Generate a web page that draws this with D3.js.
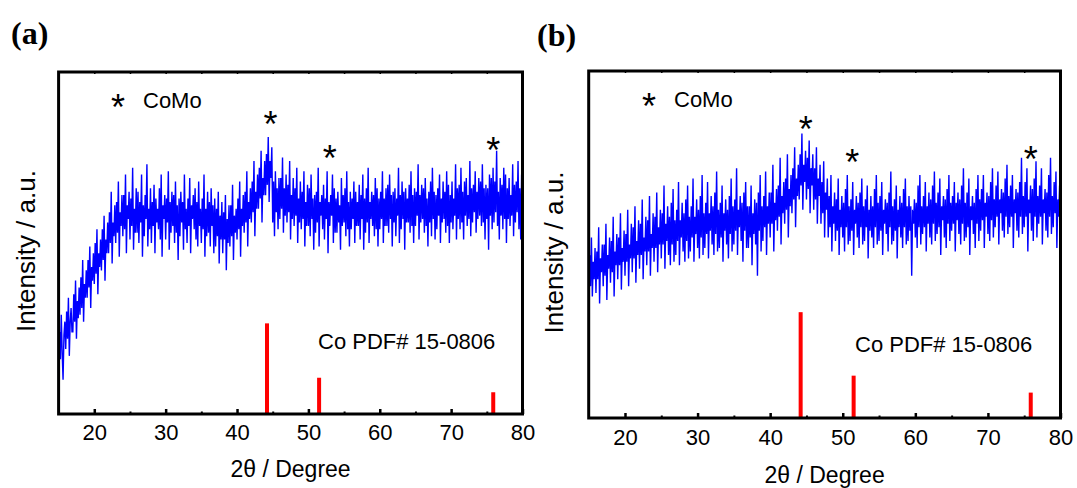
<!DOCTYPE html>
<html>
<head>
<meta charset="utf-8">
<title>XRD CoMo</title>
<script src="https://d3js.org/d3.v7.min.js"></script>
<style>
  body { margin: 0; background: #fff; }
  text { font-family: Arial, "Liberation Sans", sans-serif; }
</style>
</head>
<body>
<script>
// 2theta sampling of the measured patterns
var thetaStart = 15, thetaStep = 0.125;

// pattern (a), intensity in a.u. (0 = bottom of frame, 100 = top), 8 points per degree
var intensityA = [
  12,24,16,29,18,10,23,27, 19,30,22,34,17,27,31,24, 24,35,27,39,22,33,28,37,
  29,40,31,45,27,38,34,42, 34,45,37,49,31,43,39,47, 38,50,41,54,35,47,43,51,
  42,54,45,58,39,51,47,56, 47,59,50,65,44,56,52,61, 50,62,53,68,46,59,55,64,
  52,64,54,70,47,61,57,65, 51,63,55,72,48,60,53,66, 53,65,50,62,56,70,46,61,
  52,64,57,73,49,60,54,66, 50,62,55,67,47,63,56,60, 54,66,51,70,46,61,57,64,
  51,63,56,71,48,62,53,65, 55,64,50,68,53,61,45,63, 52,65,56,62,48,70,54,60,
  50,63,55,69,47,61,57,64, 54,66,51,62,49,68,55,60, 50,63,54,70,46,60,52,65,
  53,62,49,66,55,61,47,63, 49,60,52,65,44,58,51,62, 47,59,51,64,42,57,50,61,
  49,61,52,67,45,58,53,60, 51,63,54,68,46,60,55,64, 53,65,56,71,49,62,57,66,
  56,68,59,74,52,65,60,70, 60,72,63,77,56,69,64,74, 64,76,67,81,62,74,69,78,
  56,68,52,71,59,66,54,69, 57,69,60,75,53,66,58,70, 56,67,59,74,51,64,57,69,
  55,66,58,72,50,63,56,68, 54,65,57,71,49,62,55,67, 55,66,52,70,57,63,48,64,
  53,65,56,72,49,62,58,64, 54,67,51,63,57,71,47,62, 55,64,58,70,50,66,53,63,
  53,65,56,61,48,69,55,64, 56,66,52,71,54,62,49,65, 54,63,57,68,50,65,55,62,
  55,67,51,64,57,70,48,63, 53,66,56,72,50,62,57,65, 55,64,52,69,54,66,49,63,
  54,65,57,71,50,63,55,66, 55,67,53,70,57,64,49,65, 56,66,52,63,58,72,50,64,
  54,68,57,65,48,66,56,63, 56,67,53,71,55,64,50,66, 55,65,58,73,51,64,56,67,
  57,66,53,69,55,63,49,65, 56,68,52,72,57,65,51,64, 54,66,58,70,50,63,56,68,
  57,65,53,71,55,67,50,64, 56,68,54,63,58,73,51,66, 57,67,54,72,56,65,51,68,
  58,69,55,64,57,74,52,66, 56,67,59,71,53,65,57,69, 58,68,55,73,56,66,51,67,
  57,66,48,70,58,69,54,72, 56,68,59,77,55,65,51,69, 58,67,54,72,57,70,50,66,
  57,69,55,64,58,73,52,67, 56,68,59,74,54,66,51,70,
  58
];

// pattern (b)
var intensityB = [
  30,47,38,52,35,45,40,49, 36,48,40,55,33,46,42,50, 38,50,41,56,34,47,43,52,
  39,51,42,58,35,48,44,53, 40,52,44,59,37,49,45,54, 41,53,45,60,38,50,46,56,
  42,55,46,61,39,51,47,57, 43,56,47,63,40,52,48,58, 44,57,48,64,41,53,49,59,
  45,58,49,65,42,55,50,60, 46,59,50,67,43,56,51,61, 47,58,44,62,50,66,45,57,
  47,60,51,68,44,57,52,62, 48,59,45,63,51,67,46,58, 48,61,52,69,45,58,53,63,
  49,60,46,64,52,70,47,59, 49,62,53,68,46,59,54,64, 50,61,47,65,53,71,48,60,
  49,62,52,67,45,59,54,63, 50,60,46,64,53,69,48,61, 50,63,54,72,47,60,55,64,
  51,62,45,65,54,68,49,61, 49,61,52,67,44,59,53,63, 50,62,41,65,54,70,48,61,
  51,64,55,71,47,61,56,65, 52,65,56,73,48,62,57,66, 54,67,58,75,50,64,59,68,
  56,69,60,76,52,66,61,70, 59,72,63,78,55,69,64,73, 63,76,67,82,60,73,68,77,
  63,75,66,80,59,72,67,76, 60,72,63,78,56,69,64,73, 56,68,59,74,52,65,60,69,
  52,64,55,70,48,61,56,65, 51,63,54,69,47,60,55,64, 52,62,48,66,55,70,50,61,
  51,63,54,68,47,60,56,64, 52,62,49,65,55,69,50,61, 51,63,55,67,46,60,54,64,
  52,61,49,66,55,70,50,62, 51,64,54,68,47,60,56,63, 53,62,48,65,55,71,50,61,
  51,63,54,67,46,60,55,64, 52,62,49,66,55,69,50,61, 51,64,54,61,41,60,56,63,
  52,62,49,67,55,70,50,61, 53,64,55,68,48,61,56,65, 52,63,50,67,56,71,51,62,
  53,65,55,69,47,61,57,64, 52,63,49,66,56,70,51,62, 54,64,56,68,48,62,57,65,
  53,63,50,67,56,72,51,62, 52,65,55,69,47,61,57,64, 53,62,49,66,56,70,51,63,
  54,66,57,70,49,62,58,65, 53,64,51,68,57,72,52,63, 55,67,58,71,50,63,59,66,
  54,65,52,69,58,73,53,64, 55,67,58,70,49,63,59,66, 54,65,52,68,58,75,53,64,
  55,68,58,72,48,63,59,67, 54,66,51,69,58,74,52,64, 56,67,58,72,50,63,59,66,
  54,65,52,70,58,75,53,64, 55,68,59,71,49,63,58,67,
  55
];

// Co reference pattern PDF# 15-0806
var pdfPeaks = [44.2, 51.5, 75.9];
var pdfIntensity = [100, 40, 24];

// CoMo reflections marked with *, [2theta, height in a.u.]
var marksA = [[44.7, 86.8], [53.0, 76.9], [75.9, 79.2]];
var marksB = [[44.9, 85.3], [51.3, 75.9], [75.9, 76.7]];

var majorTicks = [20, 30, 40, 50, 60, 70, 80];
var minorTicks = [25, 35, 45, 55, 65, 75];
var topTicks = [20, 25, 30, 35, 40, 45, 50, 55, 60, 65, 70, 75, 80];

var panels = [
  {label: "(a)", labelX: 11, labelY: 44, left: 58.6, right: 522.5, top: 72, bottom: 414,
   data: intensityA, marks: marksA, stickMax: 26.5, yTitleX: 35, titleY: 477, pad: 10,
   legX: 118, legY: 100, pdfX: 318, pdfY: 349},
  {label: "(b)", labelX: 537, labelY: 46, left: 588.7, right: 1060.5, top: 71, bottom: 418,
   data: intensityB, marks: marksB, stickMax: 30.5, yTitleX: 563, titleY: 483, pad: 11,
   legX: 649, legY: 99, pdfX: 855, pdfY: 352}
];

var svg = d3.select("body").append("svg")
  .attr("width", 1077)
  .attr("height", 488);

panels.forEach(function(p){
  var x = d3.scaleLinear().domain([15, 80]).range([p.left, p.right]);
  var y = d3.scaleLinear().domain([0, 100]).range([p.bottom, p.top]);
  // reference sticks use their own height scale
  var ys = d3.scaleLinear().domain([0, 100]).range([p.bottom, y(p.stickMax)]);

  var g = svg.append("g");

  // panel letter
  g.append("text")
    .attr("x", p.labelX).attr("y", p.labelY)
    .style("font-family", "'Liberation Serif', 'Times New Roman', serif")
    .style("font-weight", "bold")
    .style("font-size", "32px")
    .text(p.label);

  // measured pattern
  var line = d3.line()
    .x(function(d, i){ return x(thetaStart + i * thetaStep); })
    .y(function(d){ return y(d); });

  g.append("path")
    .datum(p.data)
    .attr("d", line)
    .attr("fill", "none")
    .attr("stroke", "#0000ff")
    .attr("stroke-width", 1.4);

  // reference sticks
  g.selectAll(".stick")
    .data(pdfPeaks)
    .enter()
    .append("rect")
    .attr("x", function(d){ return x(d) - 2; })
    .attr("width", 4)
    .attr("y", function(d, i){ return ys(pdfIntensity[i]); })
    .attr("height", function(d, i){ return p.bottom - ys(pdfIntensity[i]); })
    .attr("fill", "#ff0000");

  // axes, ticks pointing inward
  var ax = g.append("g").attr("transform", "translate(0," + p.bottom + ")")
    .call(d3.axisBottom(x).tickValues(majorTicks).tickSize(-5).tickPadding(p.pad));
  ax.select(".domain").remove();
  ax.selectAll("line").attr("stroke-width", 2.5);
  ax.selectAll("text").style("font-size", "22px").attr("fill", "#000");

  var mx = g.append("g").attr("transform", "translate(0," + p.bottom + ")")
    .call(d3.axisBottom(x).tickValues(minorTicks).tickSize(-2.5).tickFormat(""));
  mx.select(".domain").remove();
  mx.selectAll("line").attr("stroke-width", 2);

  var tx = g.append("g").attr("transform", "translate(0," + p.top + ")")
    .call(d3.axisTop(x).tickValues(topTicks).tickSize(-2).tickFormat(""));
  tx.select(".domain").remove();
  tx.selectAll("line").attr("stroke-width", 1.5);

  // frame
  g.append("rect")
    .attr("x", p.left).attr("y", p.top)
    .attr("width", p.right - p.left).attr("height", p.bottom - p.top)
    .attr("fill", "none")
    .attr("stroke", "#000")
    .attr("stroke-width", 3);

  // axis titles
  g.append("text")
    .attr("x", (p.left + p.right) / 2).attr("y", p.titleY)
    .attr("text-anchor", "middle")
    .style("font-size", "23px")
    .text("2\u03b8 / Degree");

  g.append("text")
    .attr("transform", "translate(" + p.yTitleX + "," + ((p.top + p.bottom) / 2 + 8) + ") rotate(-90)")
    .attr("text-anchor", "middle")
    .style("font-size", "26px")
    .text("Intensity / a.u.");

  // legend
  g.append("text")
    .attr("x", p.legX).attr("y", p.legY + 20)
    .attr("text-anchor", "middle")
    .style("font-size", "36px")
    .text("*");
  g.append("text")
    .attr("x", p.legX + 25).attr("y", p.legY + 8)
    .style("font-size", "22px")
    .text("CoMo");

  // peak marks
  g.selectAll(".mark")
    .data(p.marks)
    .enter()
    .append("text")
    .attr("x", function(d){ return x(d[0]); })
    .attr("y", function(d){ return y(d[1]) + 20; })
    .attr("text-anchor", "middle")
    .style("font-size", "36px")
    .text("*");

  g.append("text")
    .attr("x", p.pdfX).attr("y", p.pdfY)
    .style("font-size", "22px")
    .text("Co PDF# 15-0806");
});
</script>
</body>
</html>
